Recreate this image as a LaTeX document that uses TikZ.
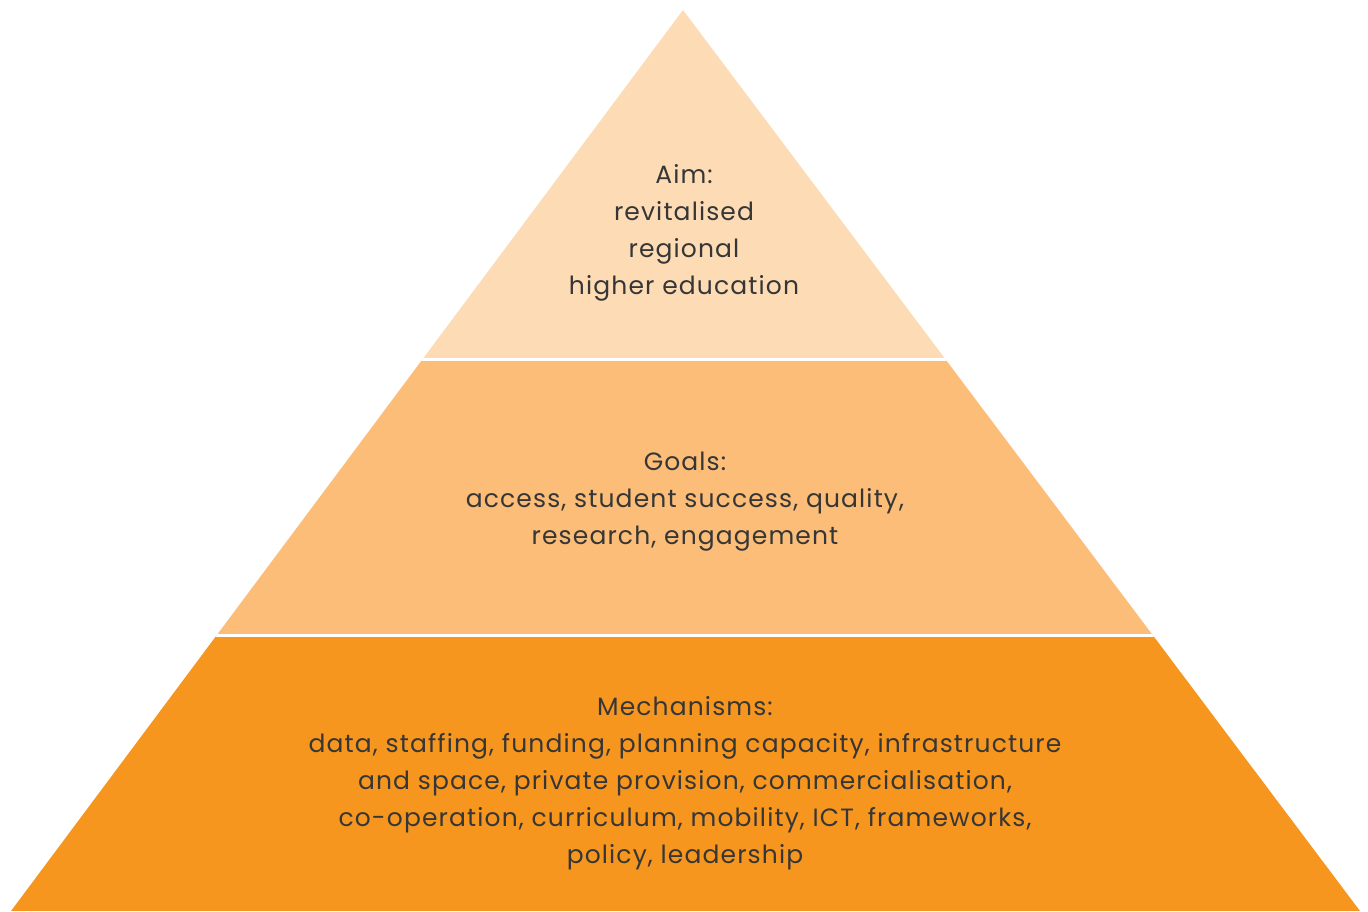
\documentclass[tikz,border=0pt]{standalone}
\usepackage{fontspec}
\setmainfont{Poppins}[LetterSpace=4.5]
\definecolor{topband}{HTML}{FDDBB4}
\definecolor{midband}{HTML}{FBBD77}
\definecolor{lowband}{HTML}{F6961F}
\definecolor{txt}{HTML}{363636}
\begin{document}
\begin{tikzpicture}[x=1pt,y=-1pt,
  label/.style={align=center,text=txt,font=\fontsize{25}{37}\selectfont,inner sep=0pt},
  gap/.style={draw=white,line width=3pt}]
\useasboundingbox (0,0) rectangle (1368,911);
\coordinate (apex) at (683,10);
\coordinate (bl) at (11,911);
\coordinate (br) at (1360,911);
\begin{scope}
\clip (apex) -- (br) -- (bl) -- cycle;
\fill[topband] (0,0) rectangle (1368,359.5);
\fill[midband] (0,359.5) rectangle (1368,635.5);
\fill[lowband] (0,635.5) rectangle (1368,911);
\draw[gap] (0,359.5) -- (1368,359.5);
\draw[gap] (0,635.5) -- (1368,635.5);
\end{scope}
\node[label] (aim) at (684,233) {Aim:\\revitalised\\regional\\higher education};
\node[label] (goals) at (685,502) {Goals:\\access, student success, quality,\\research, engagement};
\node[label] (mech) at (685,783) {Mechanisms:\\data, staffing, funding, planning capacity, infrastructure\\and space, private provision, commercialisation,\\co-operation, curriculum, mobility, ICT, frameworks,\\policy, leadership};
\end{tikzpicture}
\end{document}
